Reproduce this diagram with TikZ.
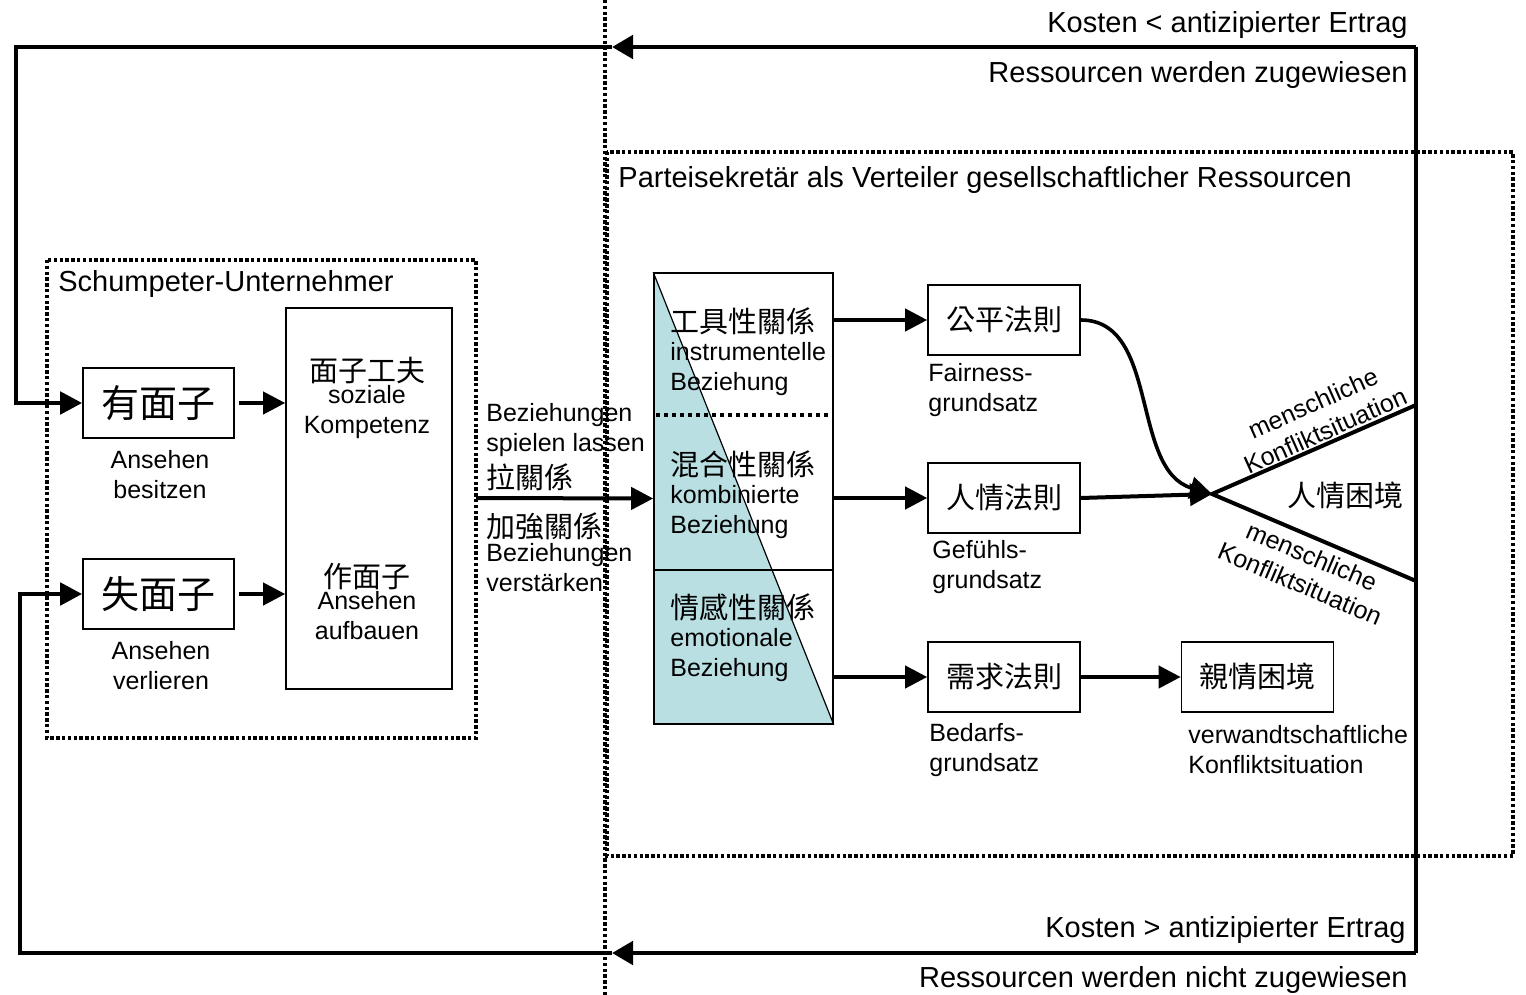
\documentclass[tikz,border=0pt]{standalone}
\usepackage{fontspec}
\setmainfont{Liberation Sans}
\newfontfamily\cjk{Noto Sans CJK TC}
\usetikzlibrary{arrows.meta,backgrounds}
\definecolor{relfill}{HTML}{B9DFE2}

\begin{document}
\begin{tikzpicture}[x=0.5pt,y=-0.5pt,
    box/.style={draw,line width=0.8pt,minimum width=76pt,minimum height=35pt,inner sep=0pt,
      font=\cjk\fontsize{14.5}{17}\selectfont},
    facebox/.style={box,minimum width=75.5pt,font=\cjk\fontsize{19}{22}\selectfont},
    lab/.style={inner sep=0pt,font=\fontsize{12.5}{15}\selectfont},
    title/.style={inner sep=0pt,anchor=west,font=\fontsize{14.5}{17}\selectfont},
    flow/.style={line width=2pt,-{Triangle[length=11pt,width=11pt]}},
    loopline/.style={line width=2.4pt},
    looparrow/.style={loopline,-{Triangle[length=10.5pt,width=11.5pt]}},
    dots/.style={line width=1.8pt,dash pattern=on 1.7pt off 1.2pt}]
  \useasboundingbox (0,0) rectangle (1526,995);

  % frames
  \draw[dots] (605,0) -- (605,995);
  \draw[dots] (47,260) rectangle (476,738);
  \draw[dots] (607,152) rectangle (1513,856);
  \node[title] (schump) at (58,284) {Schumpeter-Unternehmer};
  \node[title] (party) at (618,180) {Parteisekret\"ar als Verteiler gesellschaftlicher Ressourcen};

  % face
  \node[facebox] (yes) at (158.5,403) {有面子};
  \node[facebox] (lose) at (158.5,594) {失面子};
  \node[lab,align=center] (yesl) at (160,475) {Ansehen\\besitzen};
  \node[lab,align=center] (losel) at (161,666) {Ansehen\\verlieren};
  \node[draw,line width=0.8pt,minimum width=83pt,minimum height=190.5pt] (face) at (369,498.5) {};
  \node[lab,align=center] (work) at (367,398) {{\cjk\fontsize{14.5}{17}\selectfont 面子工夫}\\[-4pt]soziale\\Kompetenz};
  \node[lab,align=center] (make) at (367,601) {{\cjk\fontsize{14.5}{17}\selectfont 作面子}\\[-4pt]Ansehen\\aufbauen};
  \draw[flow,shorten <=2pt] (yes.east) -- (face.west |- yes);
  \draw[flow,shorten <=2pt] (lose.east) -- (face.west |- lose);

  % relations
  \node[draw,line width=0.8pt,minimum width=89.5pt,minimum height=225.5pt] (col) at (743.5,498.5) {};
  \begin{scope}[on background layer]
    \fill[relfill] (col.north west) -- (col.south west) -- (col.south east) -- cycle;
  \end{scope}
  \draw[line width=0.6pt] (col.north west) -- (col.south east);
  \draw[line width=2pt,dash pattern=on 2pt off 2pt] (656,415) -- (831,415);
  \draw[line width=0.6pt] (654,570) -- (833,570);
  \node[lab,align=left,anchor=west] (instr) at (670,352) {{\cjk\fontsize{14.5}{17}\selectfont 工具性關係}\\[-1pt]instrumentelle\\Beziehung};
  \node[lab,align=left,anchor=west] (mixed) at (670,495) {{\cjk\fontsize{14.5}{17}\selectfont 混合性關係}\\[-1pt]kombinierte\\Beziehung};
  \node[lab,align=left,anchor=west] (emot) at (670,638) {{\cjk\fontsize{14.5}{17}\selectfont 情感性關係}\\[-1pt]emotionale\\Beziehung};

  \node[lab,align=left,anchor=west] (pull) at (486,447) {Beziehungen\\spielen lassen\\[2.5pt]{\cjk\fontsize{14.5}{17}\selectfont 拉關係}};
  \node[lab,align=left,anchor=west] (streng) at (486,552) {{\cjk\fontsize{14.5}{17}\selectfont 加強關係}\\[-3pt]Beziehungen\\verst\"arken};
  \coordinate (sr) at (476,498);
  \draw[flow] (sr) -- (col.west);

  % rules
  \node[box] (fair) at (1004,320) {公平法則};
  \node[box] (feel) at (1004,498) {人情法則};
  \node[box] (need) at (1004,677) {需求法則};
  \node[box] (kin) at (1257.5,677) {親情困境};
  \node[lab,align=left,anchor=west] (fairl) at (928,390) {Fairness-\\grundsatz};
  \node[lab,align=left,anchor=west] (feell) at (932,567) {Gef\"uhls-\\grundsatz};
  \node[lab,align=left,anchor=west] (needl) at (929,750) {Bedarfs-\\grundsatz};
  \node[lab,align=left,anchor=west] (kinl) at (1188,750) {verwandtschaftliche\\Konfliktsituation};
  \draw[flow] (col.east |- fair) -- (fair.west);
  \draw[flow] (col.east |- feel) -- (feel.west);
  \draw[flow] (col.east |- need) -- (need.west);
  \draw[flow] (need.east) -- (kin.west);

  % dilemma
  \coordinate (jn) at (1212,494);
  \coordinate (vup) at (1416,405);
  \coordinate (vdn) at (1416,581);
  \draw[line width=2pt] (vup) -- (jn) -- (vdn);
  \draw[flow] (feel.east) -- (jn);
  \draw[line width=1.8pt,-{Triangle[length=11pt,width=11pt]}] (fair.east) .. controls (1160,320) and (1130,470) .. (jn);
  \node[inner sep=0pt,font=\cjk\fontsize{14.5}{17}\selectfont] (human) at (1345,496) {人情困境};
  \node[lab,align=center,rotate=24] (conf1) at (1319,417) {menschliche\\Konfliktsituation};
  \node[lab,align=center,rotate=-23] (conf2) at (1306,570) {menschliche\\Konfliktsituation};

  % feedback
  \coordinate (rt) at (1416,47);
  \coordinate (rb) at (1416,953);
  \coordinate (mt) at (612,47);
  \coordinate (mb) at (612,953);
  \coordinate (lt) at (16,47);
  \coordinate (lb) at (20,953);
  \draw[loopline] (rt) -- (rb);
  \draw[looparrow] (rt) -- (mt);
  \draw[flow,line width=2.4pt] (mt) -- (lt) |- (yes.west);
  \draw[looparrow] (rb) -- (mb);
  \draw[flow,line width=2.4pt] (mb) -- (lb) |- (lose.west);
  \node[title,anchor=east] (costlo) at (1408,25) {Kosten < antizipierter Ertrag};
  \node[title,anchor=east] (given) at (1408,75) {Ressourcen werden zugewiesen};
  \node[title,anchor=east] (costhi) at (1406,930) {Kosten > antizipierter Ertrag};
  \node[title,anchor=east] (denied) at (1408,980) {Ressourcen werden nicht zugewiesen};
\end{tikzpicture}
\end{document}
